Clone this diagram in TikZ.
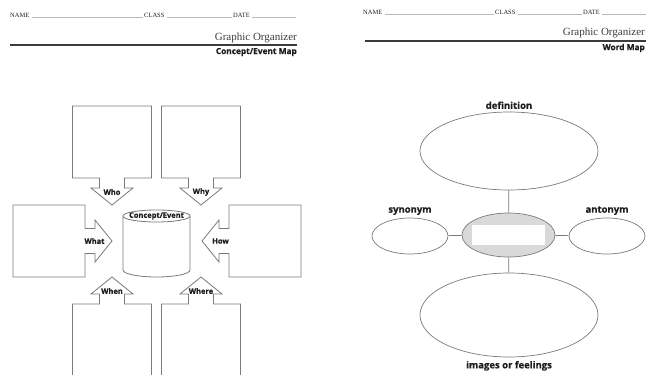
\documentclass[tikz,border=0pt]{standalone}
\usepackage{fontspec}
\setmainfont{Liberation Serif}
\newfontfamily\mapfont[BoldFeatures={FakeBold=0.7}]{Open Sans}
\usepackage{tikz}
\usetikzlibrary{positioning,shapes.geometric}

\definecolor{inkgray}{HTML}{7A7A7A}
\definecolor{fillgray}{HTML}{D9D9D9}
\definecolor{textdark}{HTML}{1E1E1E}
\definecolor{headgray}{HTML}{3C3C3C}

\tikzset{
	boxline/.style={draw=inkgray, line width=0.8pt, fill=white},
	cuelabel/.style={font=\mapfont\bfseries\fontsize{7.5}{8}\selectfont, text=textdark, inner sep=0pt},
	wordlabel/.style={font=\mapfont\bfseries\fontsize{9.5}{11}\selectfont, text=textdark, inner sep=0pt},
	oval/.style={ellipse, draw=inkgray, line width=0.7pt, inner sep=0pt},
	link/.style={draw=inkgray, line width=0.7pt},
	formtext/.style={font=\fontsize{6.5}{7}\selectfont, text=textdark, inner sep=0pt},
	blankline/.style={draw=gray!55, line width=0.4pt},
	% box with a block arrow coming out of it, tip at the origin, pointing along +x
	pics/callout/.style n args={3}{
		code={
			\draw[boxline] (-27,12.5) -- (-27,#1) -- (-99,#1) -- (-99,-#1) -- (-27,-#1)
			-- (-27,-12.5) -- (-17,-12.5) -- (-17,-21) -- (0,0) -- (-17,21)
			-- (-17,12.5) -- cycle;
			\node[cuelabel] (-label) at (#3,0) {#2};
		}
	}
}

\begin{document}
\begin{tikzpicture}[x=1pt, y=-1pt,
	titlefont/.style={font=\fontsize{11}{12}\selectfont, text=headgray, inner sep=0pt},
	subtitle/.style={font=\mapfont\bfseries\fontsize{8.3}{9}\selectfont, text=textdark, inner sep=0pt}
	]
	
	\useasboundingbox (0,0) rectangle (646,375);
	\clip (0,0) rectangle (646,375);
	
	%% -- Left sheet header
	\node[formtext, anchor=base west] (name1) at (10,17.5) {NAME};
	\node[formtext, anchor=base west] (class1) at (144,17.5) {CLASS};
	\node[formtext, anchor=base west] (date1) at (233,17.5) {DATE};
	\coordinate (end1) at (296,17.5);
	\draw[blankline] ([xshift=2pt]name1.base east) -- ([xshift=-1pt]class1.base west);
	\draw[blankline] ([xshift=2pt]class1.base east) -- ([xshift=-1pt]date1.base west);
	\draw[blankline] ([xshift=2pt]date1.base east) -- (end1);
	
	\node[titlefont, anchor=base east] (title1) at (297,40) {Graphic Organizer};
	\draw[draw=headgray, line width=1.6pt] (10,45) -- (297,45);
	\node[subtitle, anchor=east] (sub1) at (297,52) {Concept/Event Map};
	
	%% -- Right sheet header
	\node[formtext, anchor=base west] (name2) at (363,14) {NAME};
	\node[formtext, anchor=base west] (class2) at (495,14) {CLASS};
	\node[formtext, anchor=base west] (date2) at (583,14) {DATE};
	\coordinate (end2) at (646,14);
	\draw[blankline] ([xshift=2pt]name2.base east) -- ([xshift=-1pt]class2.base west);
	\draw[blankline] ([xshift=2pt]class2.base east) -- ([xshift=-1pt]date2.base west);
	\draw[blankline] ([xshift=2pt]date2.base east) -- (end2);
	
	\node[titlefont, anchor=base east] (title2) at (645,35) {Graphic Organizer};
	\draw[draw=headgray, line width=1.6pt] (365,41) -- (646,41);
	\node[subtitle, anchor=east] (sub2) at (645,48) {Word Map};
	
	%% -- Concept/Event map: six boxes pointing at the centre
	\pic[rotate=-90] (who) at (112,205) {callout={39.5}{Who}{-13}};
	\pic[rotate=-90] (why) at (201,205) {callout={39.5}{Why}{-13}};
	\pic (what) at (112,241) {callout={36}{What}{-17.5}};
	\pic[rotate=180] (how) at (202,241) {callout={36}{How}{-18.5}};
	\pic[rotate=90] (when) at (112,277) {callout={39.5}{When}{-14}};
	\pic[rotate=90] (where) at (201,277) {callout={39.5}{Where}{-14}};
	
	%% -- Centre cylinder
	\draw[boxline, fill=none] (123,216) -- (123,270)
	arc[start angle=180, end angle=0, x radius=33.5, y radius=7] -- (190,216);
	\draw[boxline] (156.5,216) ellipse[x radius=33.5, y radius=6];
	\node[cuelabel] (concept) at (156.5,216) {Concept/Event};
	
	%% -- Word map
	\node[oval, minimum width=178, minimum height=78] (def) at (509,151) {};
	\node[oval, fill=fillgray, minimum width=93, minimum height=44] (word) at (508.5,235) {};
	\node[fill=white, minimum width=73, minimum height=20, inner sep=0pt] (blank) at (word) {};
	\node[oval, minimum width=76, minimum height=36] (syn) at (410,236) {};
	\node[oval, minimum width=76, minimum height=36] (ant) at (607,236) {};
	\node[oval, minimum width=178, minimum height=84] (img) at (509,315) {};
	
	\draw[link] (def) -- (word);
	\draw[link] (syn) -- (word);
	\draw[link] (word) -- (ant);
	\draw[link] (word) -- (img);
	
	\node[wordlabel, above=2.5pt of def] (deflabel) {definition};
	\node[wordlabel, above=2.5pt of syn] (synlabel) {synonym};
	\node[wordlabel, above=2.5pt of ant] (antlabel) {antonym};
	\node[wordlabel, below=3.5pt of img] (imglabel) {images or feelings};
	
\end{tikzpicture}
\end{document}
